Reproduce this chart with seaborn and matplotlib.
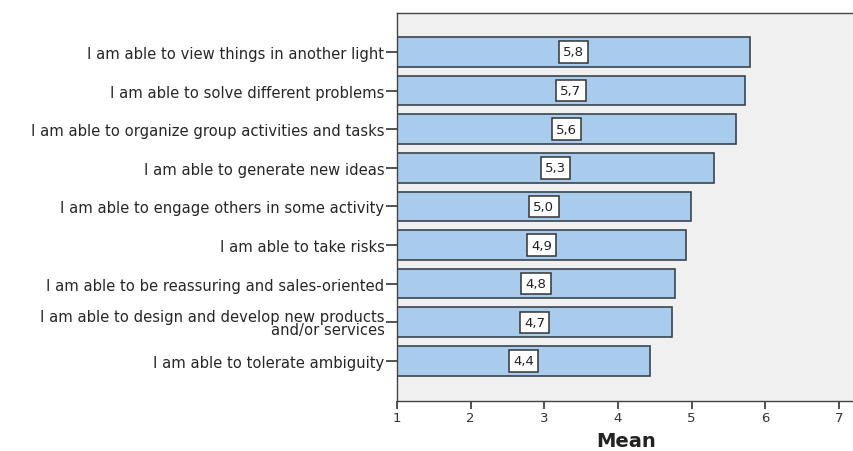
import matplotlib
matplotlib.use("Agg")
import matplotlib.pyplot as plt
import seaborn as sns
import pandas as pd

# Item wording and mean scores (1-7 scale)
items = [
    "I am able to view things in another light",
    "I am able to solve different problems",
    "I am able to organize group activities and tasks",
    "I am able to generate new ideas",
    "I am able to engage others in some activity",
    "I am able to take risks",
    "I am able to be reassuring and sales-oriented",
    "I am able to design and develop new products\nand/or services",
    "I am able to tolerate ambiguity",
]
means = [5.79, 5.72, 5.61, 5.30, 4.99, 4.93, 4.78, 4.74, 4.44]
x_ticks = [1, 2, 3, 4, 5, 6, 7]

df = pd.DataFrame({"item": items, "mean": means})

sns.set_theme(style="white")
plt.rcParams["font.family"] = ["DejaVu Sans"]

fig = plt.figure(figsize=(8.54, 4.52), dpi=100)
ax = fig.add_axes([397 / 854, 1 - 402 / 452, 1 - 397 / 854 + 0.002, (402 - 14) / 452])
ax.set_facecolor("#f0f0f0")

sns.barplot(
    data=df, x="mean", y="item", orient="h", ax=ax,
    color="#a9cbec", saturation=1, width=0.77,
    edgecolor="#3a4550", linewidth=1.2,
)

# value boxes at the middle of each bar (axis origin is 1)
for i, v in enumerate(means):
    ax.text(
        (1 + v) / 2, i, f"{v:.1f}".replace(".", ","),
        ha="center", va="center", fontsize=9.5, color="#222222",
        bbox=dict(boxstyle="square,pad=0.32", facecolor="white",
                  edgecolor="#333333", linewidth=1.1),
    )

ax.set_xlim(1, 7.23)
ax.set_ylim(9.04, -1.01)
ax.set_xticks(x_ticks)
ax.set_xticklabels([str(t) for t in x_ticks])
ax.set_ylabel("")
ax.set_xlabel("Mean", fontsize=14, fontweight="bold", color="#222222", labelpad=5)

for side in ["left", "bottom", "top"]:
    ax.spines[side].set_visible(True)
    ax.spines[side].set_color("#444444")
    ax.spines[side].set_linewidth(1.0)
ax.spines["right"].set_visible(False)

ax.tick_params(axis="y", direction="out", length=8, width=1.2, color="#333333",
               pad=1, labelsize=10.6, labelcolor="#262626", left=True)
ax.tick_params(axis="x", direction="out", length=6, width=1.2, color="#333333",
               pad=1, labelsize=9.5, labelcolor="#333333", bottom=True)
for lbl in ax.get_yticklabels():
    lbl.set_linespacing(0.88)

fig.savefig("out.png", dpi=100, facecolor="white")
